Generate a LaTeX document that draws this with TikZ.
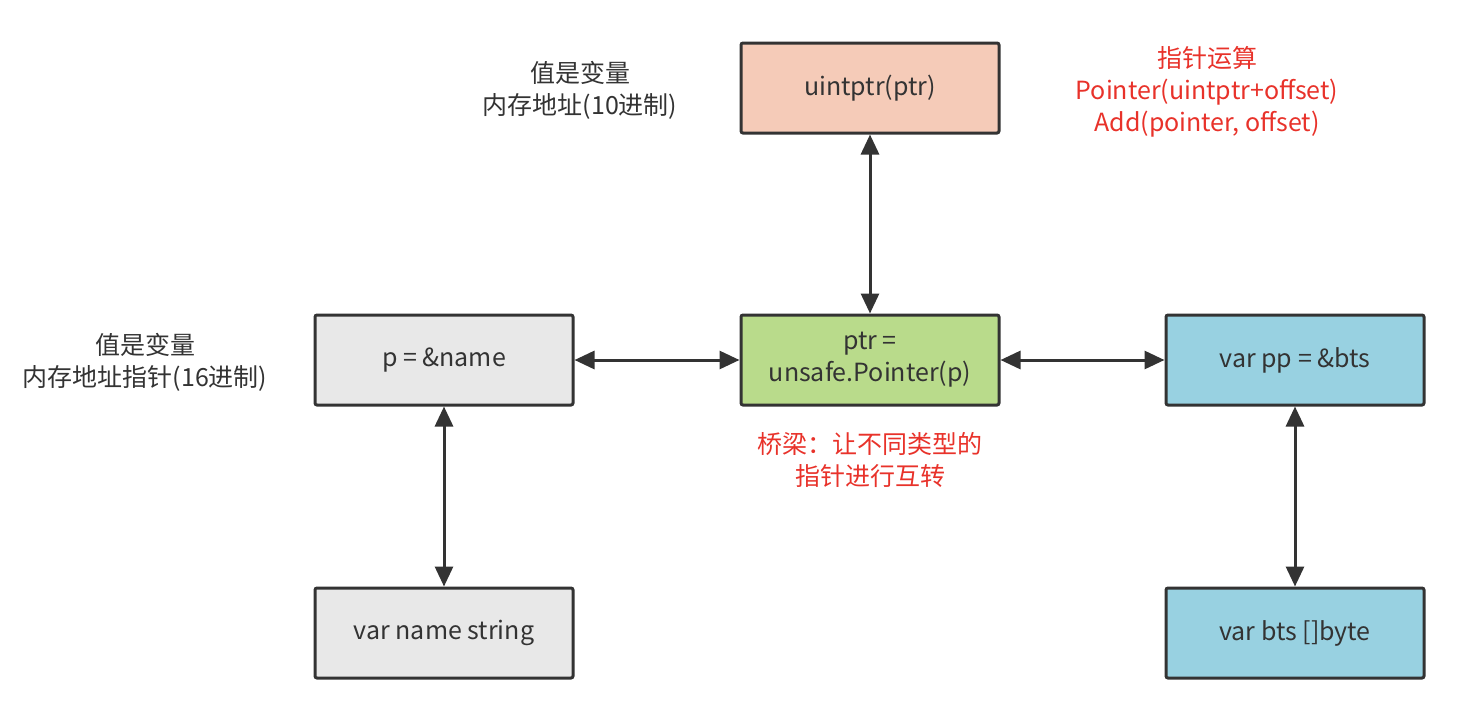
\documentclass[tikz,border=0pt]{standalone}
\usepackage{fontspec}
\setmainfont{Noto Sans CJK SC}
\usetikzlibrary{arrows.meta,positioning}
\definecolor{boxline}{HTML}{333333}
\definecolor{grayfill}{HTML}{E8E8E8}
\definecolor{greenfill}{HTML}{B9DB8B}
\definecolor{bluefill}{HTML}{98D1E1}
\definecolor{salmonfill}{HTML}{F5CBB8}
\definecolor{notered}{HTML}{E8322A}

\begin{document}
\begin{tikzpicture}[x=1pt, y=-1pt,
  box/.style={draw=boxline, rounded corners=2pt, line width=3pt, minimum width=258pt,
              minimum height=90pt, align=center, text=boxline,
              font=\fontsize{25}{32}\selectfont},
  note/.style={align=center, text=boxline, font=\fontsize{25}{32}\selectfont},
  rednote/.style={align=center, text=notered, font=\fontsize{25}{32}\selectfont},
  arrow/.style={{Triangle[length=20pt,width=18pt]}-{Triangle[length=20pt,width=18pt]},
                line width=3pt, draw=boxline}
]
\useasboundingbox (0,0) rectangle (1460,710);

\node[box, fill=greenfill] (ptr) at (870,360) {ptr =\\unsafe.Pointer(p)};
\node[box, fill=salmonfill, above=179pt of ptr] (uintptr) {uintptr(ptr)};
\node[box, fill=grayfill, left=165pt of ptr] (pname) {p = \&name};
\node[box, fill=bluefill, right=164pt of ptr] (ppbts) {var pp = \&bts};
\node[box, fill=grayfill, below=180pt of pname] (namestr) {var name string};
\node[box, fill=bluefill, below=180pt of ppbts] (btsbyte) {var bts []byte};

\node[note] (uintnote) at (580,90) {值是变量\\内存地址(10进制)};
\node[note] (pnote) at (145,362) {值是变量\\内存地址指针(16进制)};
\node[rednote] (calcnote) at (1207,92) {指针运算\\Pointer(uintptr+offset)\\Add(pointer, offset)};
\node[rednote, below=22pt of ptr] (bridge) {桥梁：让不同类型的\\指针进行互转};

\draw[arrow] (uintptr) -- (ptr);
\draw[arrow] (pname) -- (ptr);
\draw[arrow] (ptr) -- (ppbts);
\draw[arrow] (pname) -- (namestr);
\draw[arrow] (ppbts) -- (btsbyte);
\end{tikzpicture}
\end{document}
